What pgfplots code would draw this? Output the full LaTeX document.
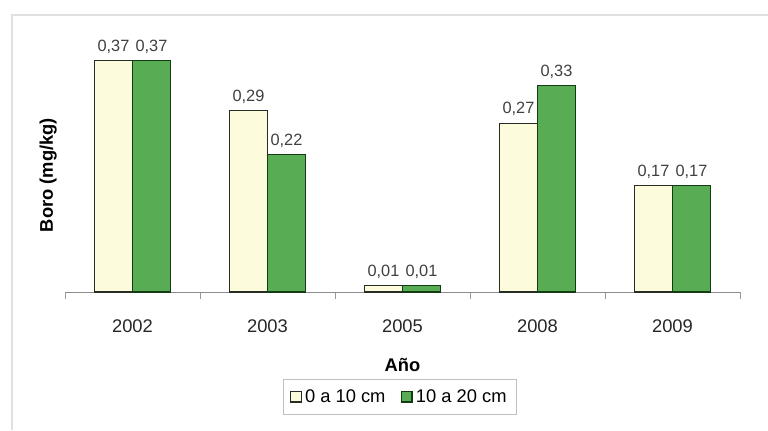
\documentclass[border=0pt]{standalone}
\usepackage{fontspec}
\setmainfont{Liberation Sans}
\usepackage{pgfplots}
\pgfplotsset{compat=1.18}
\definecolor{cream}{RGB}{252,252,220}
\definecolor{barg}{RGB}{88,172,84}
\definecolor{edgeA}{RGB}{40,45,35}
\definecolor{edgeB}{RGB}{20,60,20}
\begin{document}
\begin{tikzpicture}
\useasboundingbox (0,0) rectangle (460.8pt,258pt);
\draw[black!12, line width=0.8pt] (7.2pt,0) -- (7.2pt,249pt) -- (460.8pt,249pt);
\begin{axis}[
  at={(39pt,82.8pt)}, anchor=south west,
  scale only axis, width=405pt, height=150pt,
  ybar=0pt, bar width=22.8pt,
  xmin=-0.5, xmax=4.5, ymin=0, ymax=0.4,
  axis x line*=bottom, axis y line*=left,
  y axis line style={draw=none},
  x axis line style={black!45,-},
  ytick=\empty,
  xtick={0,...,4}, xticklabels={2002,2003,2005,2008,2009},
  major x tick style={draw=none},
  minor xtick={-0.5,0.5,...,4.5},
  minor x tick style={black!40}, minor tick length=4pt, tick align=outside,
  xticklabel style={anchor=center, yshift=-16.5pt, text=black!85, font=\fontsize{11}{13}\selectfont},
  xlabel={\textbf{Año}},
  xlabel style={at={(axis description cs:0.5,0)}, anchor=center, yshift=-43.8pt, font=\fontsize{11}{13}\selectfont},
  ylabel={\textbf{Boro (mg/kg)}},
  ylabel style={at={(axis description cs:-0.025,0.468)}, anchor=center, font=\fontsize{11}{13}\selectfont},
  nodes near coords,
  nodes near coords style={font=\fontsize{9.8}{11}\selectfont, text=black!75, inner sep=4pt},
  /pgf/number format/.cd, use comma, fixed, fixed zerofill, precision=2, assume math mode=true,
  /pgfplots/.cd,
  legend style={at={(axis description cs:0.496,-0.42)}, anchor=center, legend columns=2,
    draw=black!25, font=\fontsize{11}{13}\selectfont, inner xsep=4pt, inner ysep=4pt,
    /tikz/every even column/.append style={column sep=7pt}},
  legend image code/.code={\draw[#1, line width=0.7pt] (0pt,-3pt) rectangle (6.5pt,3.5pt);},
]
\addplot[fill=cream, draw=edgeA, line width=0.7pt] coordinates {(0,0.37) (1,0.29) (2,0.01) (3,0.27) (4,0.17)};
\addplot[fill=barg, draw=edgeB, line width=0.7pt] coordinates {(0,0.37) (1,0.22) (2,0.01) (3,0.33) (4,0.17)};
\legend{0 a 10 cm, 10 a 20 cm}
\end{axis}
\end{tikzpicture}
\end{document}
